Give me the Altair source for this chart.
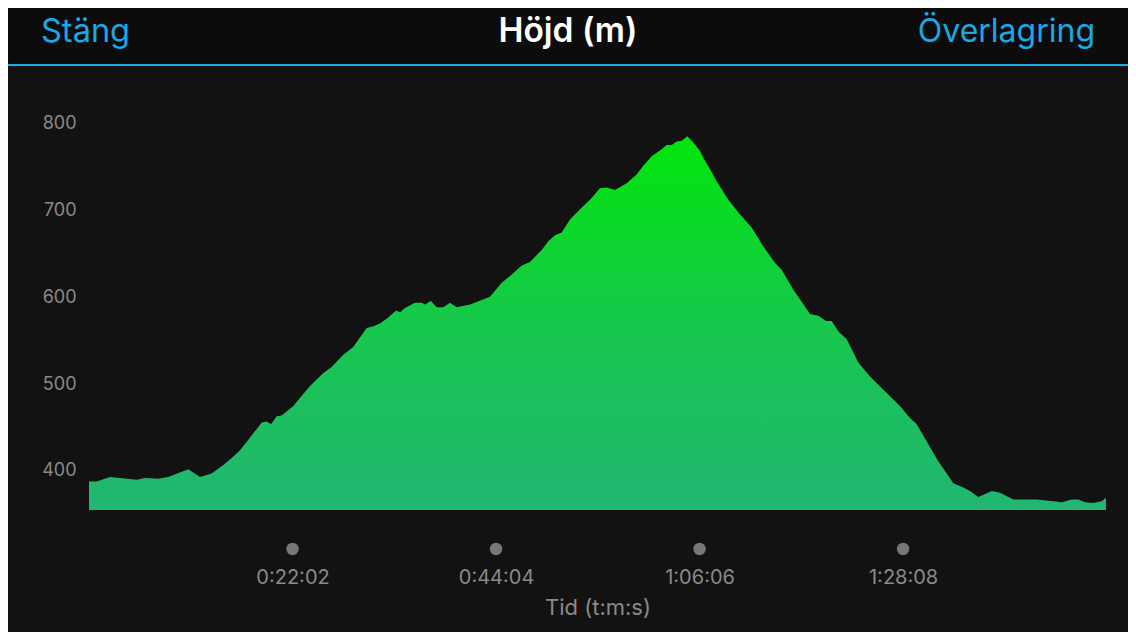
import altair as alt
import pandas as pd

# elevation profile: time (minutes) and height (m)
time_min = [0, 0.83, 2.27, 3.36, 5.16, 6.06, 7.50, 8.58, 10.75, 12.02, 13.28, 14.54, 15.45, 16.35,
            17.25, 18.70, 19.24, 19.70, 20.32, 20.86, 22.12, 23.38, 23.93, 25.37, 26.27, 27.53,
            28.61, 30.06, 30.78, 31.50, 32.40, 33.24, 33.67, 34.21, 35.29, 36.02, 36.38, 37.02,
            37.64, 38.36, 39.08, 39.81, 41.25, 41.97, 43.41, 43.95, 44.68, 45.93, 46.84, 47.74,
            49.01, 49.72, 50.45, 51.17, 52.07, 53.15, 54.24, 55.32, 56.05, 56.94, 58.21, 59.29,
            60.01, 60.92, 62.00, 62.54, 63.08, 63.62, 64.17, 64.77, 65.42, 66.15, 66.51, 67.23,
            67.96, 69.21, 70.48, 71.74, 73.00, 74.27, 74.99, 76.25, 76.97, 78.05, 78.95, 79.79,
            80.40, 81.12, 82.03, 83.28, 84.55, 86.36, 87.79, 88.88, 89.61, 90.69, 91.95, 92.67,
            93.57, 94.65, 95.38, 96.28, 97.73, 98.63, 100.07, 102.60, 104.40, 105.31, 106.39,
            107.11, 107.83, 108.73, 109.64, 110.10]
height_m = [386, 386, 391, 390, 388, 390, 389, 391, 400, 391, 395, 405, 413, 422,
            434, 454, 455, 452, 461, 462, 473, 489, 496, 511, 518, 532,
            541, 563, 565, 568, 575, 583, 581, 586, 592, 592, 590, 594,
            587, 587, 592, 587, 590, 593, 599, 606, 615, 626, 635, 639,
            653, 663, 670, 673, 688, 700, 711, 724, 725, 722, 730, 740,
            750, 761, 769, 774, 774, 778, 779, 784, 777, 767, 759, 746,
            732, 711, 694, 679, 657, 638, 630, 607, 596, 579, 577, 571,
            571, 559, 550, 523, 507, 488, 473, 459, 452, 432, 409, 398,
            384, 379, 375, 368, 375, 373, 365, 365, 363, 362, 365,
            365, 362, 361, 363, 367]

# x-axis ticks (minutes) and their labels
tick_values = [1322 / 60, 2644 / 60, 3966 / 60, 5288 / 60]
tick_labels = ["0:22:02", "0:44:04", "1:06:06", "1:28:08"]
y_ticks = [400, 500, 600, 700, 800]

title_left = "Stäng"
title_center = "Höjd (m)"
title_right = "Överlagring"
x_title = "Tid (t:m:s)"

FONT = "Inter"
W, H = 1017, 430
PAD_L, PAD_T, PAD_R, PAD_B = 81, 72, 22, 122
LABEL_GRAY = "#8a8a8a"
BLUE = "#1aa8e6"

df = pd.DataFrame({"t": time_min, "h": height_m})
ticks_df = pd.DataFrame({"t": tick_values, "label": tick_labels})

label_expr = ""
for v, lab in zip(tick_values, tick_labels):
    label_expr += f"abs(datum.value - {v}) < 0.5 ? '{lab}' : "
label_expr += "''"

x_scale = alt.Scale(domain=[0, 110.1], nice=False, zero=False)
y_scale = alt.Scale(domain=[353, 849], nice=False, zero=False)

area = alt.Chart(df).mark_area(
    interpolate="linear",
    color=alt.Gradient(
        gradient="linear",
        stops=[
            alt.GradientStop(color="#22b573", offset=0),
            alt.GradientStop(color="#17c84c", offset=0.5),
            alt.GradientStop(color="#00e60a", offset=1),
        ],
        x1=1, x2=1, y1=1, y2=0,
    ),
).encode(
    x=alt.X("t:Q", scale=x_scale,
            axis=alt.Axis(values=tick_values, labelExpr=label_expr, grid=False, ticks=False,
                          domain=False, labelPadding=57, labelFontSize=20, labelColor=LABEL_GRAY,
                          labelFont=FONT, title=x_title, titleFont=FONT, titleFontSize=22,
                          titleFontWeight="normal", titleColor=LABEL_GRAY, titlePadding=10)),
    y=alt.Y("h:Q", scale=y_scale,
            axis=alt.Axis(values=y_ticks, grid=False, ticks=False, domain=False,
                          labelPadding=13, labelFontSize=18, labelColor=LABEL_GRAY,
                          labelOffset=1.5, labelFont=FONT, title=None)),
    y2=alt.datum(353),
)

dots = alt.Chart(ticks_df).mark_point(filled=True, color="#777777", size=155, opacity=1).encode(
    x=alt.X("t:Q", scale=x_scale),
    y=alt.value(H + 39),
)

one = alt.Data(values=[{"a": 1}])
header_bg = alt.Chart(one).mark_rect(color="#0c0c0c").encode(
    x=alt.value(-PAD_L), x2=alt.value(W + PAD_R), y=alt.value(-PAD_T), y2=alt.value(-16))
header_line = alt.Chart(one).mark_rect(color=BLUE).encode(
    x=alt.value(-PAD_L), x2=alt.value(W + PAD_R), y=alt.value(-16), y2=alt.value(-14))
t_left = alt.Chart(one).mark_text(text=title_left, font=FONT, fontSize=32.5, color=BLUE,
                                  align="left", baseline="middle").encode(
    x=alt.value(-48), y=alt.value(-48))
t_center = alt.Chart(one).mark_text(text=title_center, font=FONT, fontSize=33.5, color="white",
                                    fontWeight=600, align="center", baseline="middle").encode(
    x=alt.value(479), y=alt.value(-48))
t_right = alt.Chart(one).mark_text(text=title_right, font=FONT, fontSize=32, color=BLUE,
                                   align="right", baseline="middle").encode(
    x=alt.value(1006), y=alt.value(-48))

chart = alt.layer(header_bg, header_line, area, dots, t_left, t_center, t_right).properties(
    width=W, height=H,
    background="#121212",
    padding={"left": PAD_L, "top": PAD_T, "right": PAD_R, "bottom": PAD_B},
    autosize=alt.AutoSizeParams(type="none"),
).configure_view(stroke=None)

chart.save("out.html", embed_options={"renderer": "svg", "actions": False})
